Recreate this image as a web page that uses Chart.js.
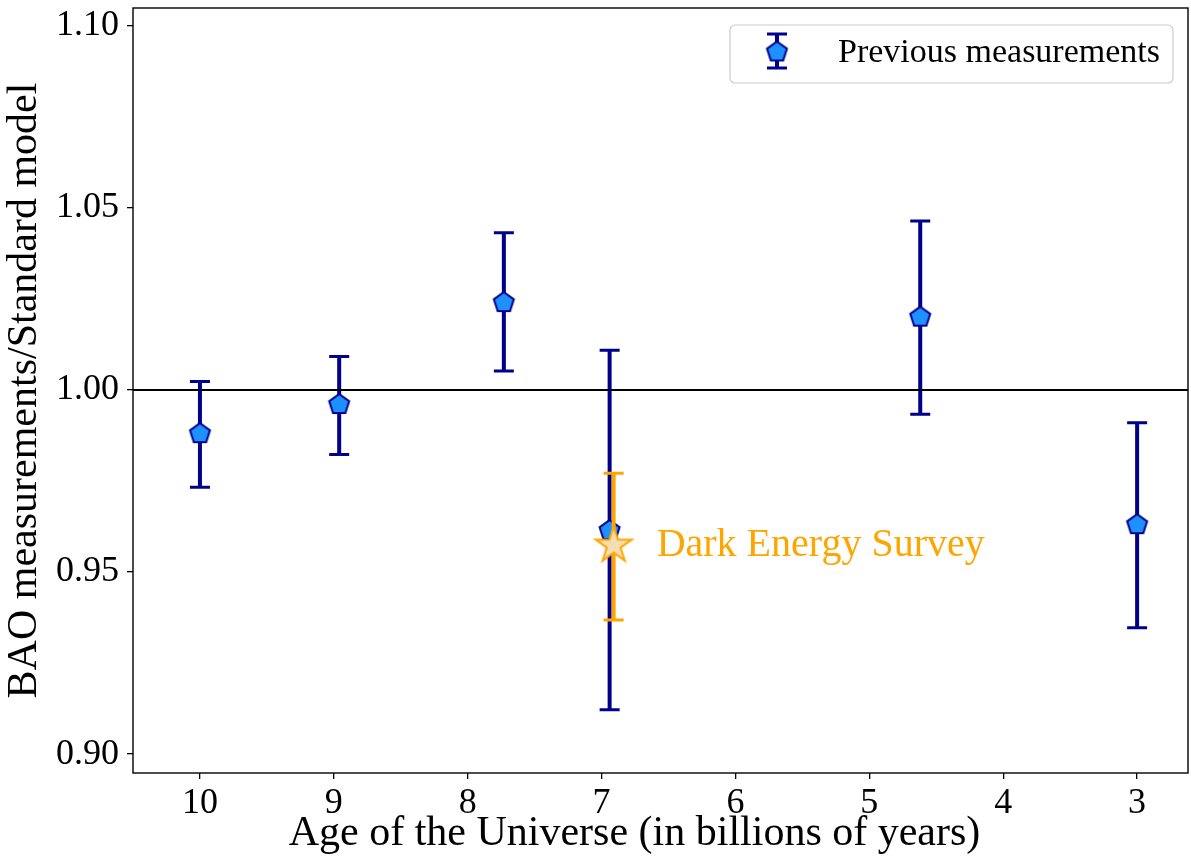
<!DOCTYPE html>
<html>
<head>
<meta charset="utf-8">
<title>BAO measurements</title>
<script src="https://cdn.jsdelivr.net/npm/chart.js@4.4.1/dist/chart.umd.min.js"></script>
<style>
  html, body { margin: 0; padding: 0; background: #fff; }
  #wrap { width: 1191px; height: 856px; }
</style>
</head>
<body>
<div id="wrap"><canvas id="baoChart" width="1191" height="856"></canvas></div>
<script>
// previous BAO measurements (age in Gyr, ratio to standard model, error bar ends)
const ageBillions = [10.0, 8.96, 7.73, 6.94, 4.62, 3.0];
const baoRatio    = [0.988, 0.996, 1.024, 0.9614, 1.020, 0.963];
const baoLower    = [0.9733, 0.9823, 1.0052, 0.9122, 0.9933, 0.9347];
const baoUpper    = [1.0023, 1.0092, 1.0432, 1.0109, 1.0464, 0.9910];

// Dark Energy Survey point
const desAge   = [6.91];
const desRatio = [0.9573];
const desLower = [0.9368];
const desUpper = [0.9771];

const xTicks = [10, 9, 8, 7, 6, 5, 4, 3];
const yTicks = [0.90, 0.95, 1.00, 1.05, 1.10];
const refLevel = 1.0;

const prevLabel = 'Previous measurements';
const desLabel = 'Dark Energy Survey';
const xTitle = 'Age of the Universe (in billions of years)';
const yTitle = 'BAO measurements/Standard model';

const FONT = '"Liberation Serif", "Times New Roman", serif';
const NAVY = '#00008B';
const BLUE = '#1E90FF';
const ORANGE = '#FFA500';
const WHEAT = '#F5DEB3';

function makePentagon(r) {
    const size = Math.ceil(r * 2 + 6);
    const c = document.createElement('canvas');
    c.width = size; c.height = size;
    const g = c.getContext('2d');
    g.beginPath();
    for (let i = 0; i < 5; i++) {
        const a = -Math.PI / 2 + i * 2 * Math.PI / 5;
        const px = size / 2 + r * Math.cos(a);
        const py = size / 2 + r * Math.sin(a);
        if (i === 0) g.moveTo(px, py); else g.lineTo(px, py);
    }
    g.closePath();
    g.fillStyle = BLUE;
    g.fill();
    g.lineWidth = 2;
    g.lineJoin = 'miter';
    g.strokeStyle = NAVY;
    g.stroke();
    return c;
}

function makeStar(r) {
    const size = Math.ceil(r * 2 + 6);
    const c = document.createElement('canvas');
    c.width = size; c.height = size;
    const g = c.getContext('2d');
    const inner = r * 0.382;
    g.beginPath();
    for (let i = 0; i < 10; i++) {
        const a = -Math.PI / 2 + i * Math.PI / 5;
        const rr = i % 2 === 0 ? r : inner;
        const px = size / 2 + rr * Math.cos(a);
        const py = size / 2 + rr * Math.sin(a);
        if (i === 0) g.moveTo(px, py); else g.lineTo(px, py);
    }
    g.closePath();
    g.fillStyle = WHEAT;
    g.fill();
    g.lineWidth = 2;
    g.lineJoin = 'miter';
    g.strokeStyle = ORANGE;
    g.stroke();
    return c;
}

const pentagonImg = makePentagon(10.5);
const starImg = makeStar(19);

function drawErrorBar(ctx, x, yTop, yBot, color, capHalf) {
    ctx.save();
    ctx.strokeStyle = color;
    ctx.lineWidth = 4;
    ctx.beginPath();
    ctx.moveTo(x, yTop);
    ctx.lineTo(x, yBot);
    ctx.stroke();
    ctx.lineWidth = 3;
    ctx.beginPath();
    ctx.moveTo(x - capHalf, yTop);
    ctx.lineTo(x + capHalf, yTop);
    ctx.moveTo(x - capHalf, yBot);
    ctx.lineTo(x + capHalf, yBot);
    ctx.stroke();
    ctx.restore();
}

const errorBarPlugin = {
    id: 'errorBars',
    beforeDatasetDraw(chart, args) {
        const ds = chart.data.datasets[args.index];
        if (!ds.errLow) return;
        const xs = chart.scales.x, ys = chart.scales.y;
        ds.data.forEach((p, i) => {
            drawErrorBar(chart.ctx, xs.getPixelForValue(p.x),
                ys.getPixelForValue(ds.errHigh[i]), ys.getPixelForValue(ds.errLow[i]),
                ds.errColor, 10);
        });
    },
    afterDatasetsDraw(chart) {
        const ctx = chart.ctx, area = chart.chartArea;
        const y = chart.scales.y.getPixelForValue(refLevel);
        ctx.save();
        ctx.strokeStyle = '#000';
        ctx.lineWidth = 2;
        ctx.beginPath();
        ctx.moveTo(area.left, y);
        ctx.lineTo(area.right, y);
        ctx.stroke();
        ctx.restore();
    },
    afterDraw(chart) {
        const ctx = chart.ctx, area = chart.chartArea;
        const xs = chart.scales.x, ys = chart.scales.y;
        ctx.save();
        // axes frame
        ctx.strokeStyle = '#000';
        ctx.lineWidth = 1.4;
        ctx.strokeRect(area.left, area.top, area.right - area.left, area.bottom - area.top);

        // DES annotation
        ctx.fillStyle = ORANGE;
        ctx.font = '40px ' + FONT;
        ctx.textAlign = 'left';
        ctx.textBaseline = 'alphabetic';
        ctx.fillText(desLabel, xs.getPixelForValue(desAge[0]) + 43, ys.getPixelForValue(desRatio[0]) + 11);

        // x axis title
        ctx.fillStyle = '#000';
        ctx.font = '42px ' + FONT;
        ctx.textAlign = 'center';
        ctx.textBaseline = 'middle';
        ctx.fillText(xTitle, (area.left + area.right) / 2 - 26, 834);

        // legend box
        const bx = 730, by = 25, bw = 443, bh = 58;
        ctx.fillStyle = 'rgba(255,255,255,0.85)';
        ctx.strokeStyle = '#cccccc';
        ctx.lineWidth = 1.2;
        ctx.beginPath();
        ctx.roundRect(bx, by, bw, bh, 5);
        ctx.fill();
        ctx.stroke();
        drawErrorBar(ctx, 777, 34, 68, NAVY, 10);
        ctx.drawImage(pentagonImg, 777 - pentagonImg.width / 2, 52 - pentagonImg.height / 2);
        ctx.fillStyle = '#000';
        ctx.font = '34px ' + FONT;
        ctx.textAlign = 'left';
        ctx.textBaseline = 'middle';
        ctx.fillText(prevLabel, 838, 53);
        ctx.restore();
    }
};

const ctx = document.getElementById('baoChart').getContext('2d');
new Chart(ctx, {
    type: 'scatter',
    data: {
        datasets: [{
            label: prevLabel,
            data: ageBillions.map((x, i) => ({ x: x, y: baoRatio[i] })),
            errLow: baoLower,
            errHigh: baoUpper,
            errColor: NAVY,
            pointStyle: pentagonImg,
            pointRadius: 11,
            showLine: false,
            order: 1
        }, {
            label: desLabel,
            data: desAge.map((x, i) => ({ x: x, y: desRatio[i] })),
            errLow: desLower,
            errHigh: desUpper,
            errColor: ORANGE,
            pointStyle: starImg,
            pointRadius: 19,
            showLine: false,
            order: 0
        }]
    },
    options: {
        responsive: false,
        animation: false,
        layout: { autoPadding: false, padding: { top: 8, right: 3, left: 0, bottom: 0 } },
        scales: {
            x: {
                type: 'linear',
                reverse: true,
                min: 2.62,
                max: 10.5,
                afterBuildTicks: scale => { scale.ticks = xTicks.map(v => ({ value: v })); },
                afterFit: scale => {
                    scale.height = 83;
                    scale.paddingLeft = 0;
                    scale.paddingRight = 0;
                },
                border: { display: false },
                grid: { drawOnChartArea: false, drawTicks: true, tickLength: 6, color: '#000', lineWidth: 1.3 },
                ticks: { color: '#000', padding: 3, maxRotation: 0, font: { family: FONT, size: 36 } },
                title: { display: false }
            },
            y: {
                min: 0.8948,
                max: 1.1049,
                afterBuildTicks: scale => { scale.ticks = yTicks.map(v => ({ value: v })); },
                afterFit: scale => {
                    scale.width = 133;
                    scale.paddingTop = 0;
                    scale.paddingBottom = 0;
                },
                border: { display: false },
                grid: { drawOnChartArea: false, drawTicks: true, tickLength: 6, color: '#000', lineWidth: 1.3 },
                ticks: {
                    color: '#000', padding: 8,
                    font: { family: FONT, size: 36 },
                    callback: v => Number(v).toFixed(2)
                },
                title: {
                    display: true,
                    text: yTitle,
                    color: '#000',
                    padding: { top: 0, bottom: 0 },
                    font: { family: FONT, size: 42 }
                }
            }
        },
        plugins: {
            legend: { display: false },
            tooltip: { enabled: false }
        }
    },
    plugins: [errorBarPlugin]
});
</script>
</body>
</html>
